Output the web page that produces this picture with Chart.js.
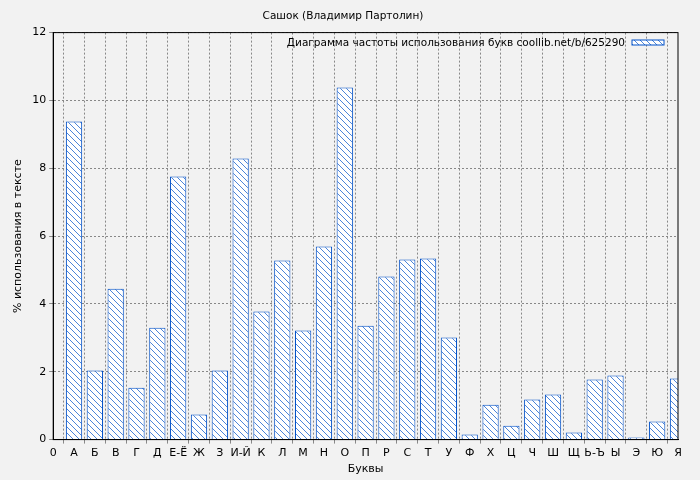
<!DOCTYPE html>
<html><head><meta charset="utf-8">
<script src="https://cdn.jsdelivr.net/npm/chart.js@4/dist/chart.umd.min.js"></script>
<style>html,body{margin:0;background:#f2f2f2}#wrap{width:700px;height:480px}</style>
</head><body><div id="wrap"><canvas id="c"></canvas></div>
<script>
const letters = ['0','А','Б','В','Г','Д','Е-Ё','Ж','З','И-Й','К','Л','М','Н','О','П','Р','С','Т','У','Ф','Х','Ц','Ч','Ш','Щ','Ь-Ъ','Ы','Э','Ю','Я'];
const percents = [null,9.38,2.04,4.45,1.53,3.30,7.76,0.74,2.04,8.29,3.78,5.28,3.22,5.69,10.38,3.36,4.81,5.31,5.34,3.01,0.15,1.03,0.41,1.18,1.33,0.21,1.77,1.89,0.06,0.53,1.80];
const yTicks = [0,2,4,6,8,10,12];
const legendText = 'Диаграмма частоты использования букв coollib.net/b/625290';

function hatch() {
  const p = document.createElement('canvas');
  p.width = 6; p.height = 6;
  const g = p.getContext('2d');
  g.fillStyle = '#fff'; g.fillRect(0,0,6,6);
  g.strokeStyle = '#0050c8'; g.lineWidth = 0.7;
  g.beginPath();
  g.moveTo(0,0); g.lineTo(6,6);
  g.moveTo(-3,3); g.lineTo(3,9);
  g.moveTo(3,-3); g.lineTo(9,3);
  g.stroke();
  return g.createPattern(p, 'repeat');
}
const pat = hatch();

const legendBox = {
  id: 'legendBox',
  afterDraw(chart) {
    const ctx = chart.ctx, a = chart.chartArea;
    ctx.save();
    ctx.font = '10.5px "DejaVu Sans"';
    ctx.fillStyle = '#000';
    ctx.textBaseline = 'middle';
    ctx.textAlign = 'right';
    ctx.fillText(legendText, a.right - 53, 43);
    ctx.fillStyle = pat;
    ctx.fillRect(a.right - 46, 40, 32, 5);
    ctx.strokeStyle = '#0050c8';
    ctx.lineWidth = 1;
    ctx.strokeRect(a.right - 46, 40, 32, 5);
    ctx.restore();
  }
};

const font = { family: 'DejaVu Sans', size: 11 };

new Chart(document.getElementById('c'), {
  type: 'bar',
  data: {
    labels: letters,
    datasets: [{
      data: percents,
      backgroundColor: pat,
      borderColor: '#0050c8',
      borderWidth: 1,
      barPercentage: 0.78,
      categoryPercentage: 1
    }]
  },
  options: {
    responsive: true,
    maintainAspectRatio: false,
    animation: false,
    layout: { padding: { top: 0, right: 22, left: 8, bottom: 0 } },
    plugins: {
      legend: { display: false },
      tooltip: { enabled: false },
      title: {
        display: true,
        text: 'Сашок (Владимир Партолин)',
        color: '#000',
        font: { family: 'DejaVu Sans', size: 10.5, weight: 'normal' },
        padding: { top: 10, bottom: 10 }
      }
    },
    scales: {
      x: {
        offset: false,
        grid: { color: '#888', tickLength: 4 },
        border: { color: '#000', dash: [2,2] },
        ticks: { color: '#000', autoSkip: false, maxRotation: 0, font },
        title: { display: true, text: 'Буквы', color: '#000', font, padding: { top: 0 } }
      },
      y: {
        min: 0, max: 12,
        afterBuildTicks(s) { s.ticks = yTicks.map(v => ({ value: v })); },
        grid: { color: '#888', tickLength: 4 },
        border: { color: '#000', dash: [2,2] },
        ticks: { color: '#000', font },
        title: { display: true, text: '% использования в тексте', color: '#000', font }
      }
    }
  },
  plugins: [legendBox, {
    id: 'frame',
    beforeDraw(chart) {
      const ctx = chart.ctx;
      ctx.save(); ctx.fillStyle = '#f2f2f2'; ctx.fillRect(0,0,chart.width,chart.height); ctx.restore();
    },
    afterDraw(chart) {
      const ctx = chart.ctx, a = chart.chartArea;
      ctx.save(); ctx.strokeStyle = '#000'; ctx.lineWidth = 1;
      ctx.strokeRect(a.left, a.top, a.right - a.left, a.bottom - a.top); ctx.restore();
    }
  }]
});
</script></body></html>
